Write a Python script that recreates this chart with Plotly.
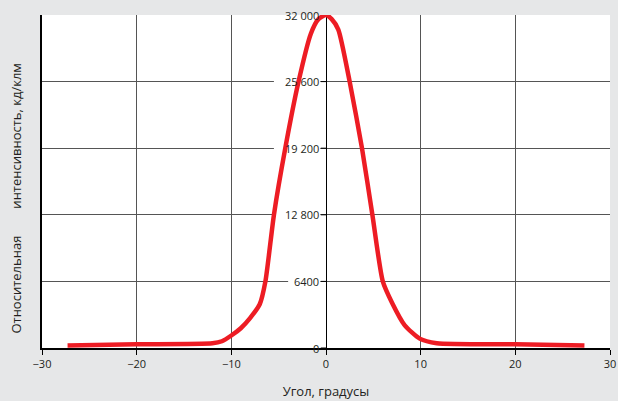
import plotly.graph_objects as go

# Кривая силы света
angle = [-27.3, -20, -12, -11, -10, -9, -8, -7, -6.4, -5.5, -4.3, -2.9, -1.6, -0.8, 0,
         0.6, 1.3, 2.5, 3.8, 4.9, 6.0, 7.0, 8.3, 9.9, 11.7, 20, 27.3]
intensity = [250, 350, 450, 650, 1200, 1900, 2900, 4200, 6400, 12800, 19200, 25600, 30200,
             31600, 32000, 31600, 30600, 25600, 19200, 12800, 6400, 4300, 2200, 900, 450, 350, 250]

x_ticks = [-30, -20, -10, 0, 10, 20, 30]
y_ticks = [0, 6400, 12800, 19200, 25600, 32000]
y_labels = ["0", "6400", "12 800", "19 200", "25 600", "32 000"]

fig = go.Figure()
fig.add_trace(go.Scatter(x=angle, y=intensity, mode="lines", line=dict(color="#ed1c24", width=4.5, shape="spline", smoothing=0.6), hoverinfo="skip"))

for v, t in zip(y_ticks, y_labels):
    fig.add_shape(type="rect", x0=-0.6 - 0.75 * len(t) - 0.4, x1=-0.6, y0=v - 450, y1=v + 450,
                  fillcolor="white", line=dict(width=0), layer="between")
    fig.add_shape(type="line", x0=-0.55, x1=0, y0=v, y1=v, line=dict(color="black", width=1), layer="between")
    fig.add_annotation(x=-0.6, y=v, text=t, showarrow=False, xanchor="right", yanchor="middle",
                       font=dict(size=11, color="#231f20", family="Open Sans"), borderpad=0)

# подпись оси Y
gap = "\u00a0" * 8
fig.add_annotation(xref="paper", yref="paper", x=-0.045, y=0.45, textangle=-90, showarrow=False,
                   xanchor="center", yanchor="middle", font=dict(size=13),
                   text="Относительная" + gap + "интенсивность, кд/клм")

fig.update_layout(
    width=618, height=401,
    paper_bgcolor="#e6e7e8", plot_bgcolor="white",
    margin=dict(l=42, r=8, t=15, b=53, autoexpand=False),
    showlegend=False,
    font=dict(family="Open Sans", color="#231f20"),
)
fig.update_xaxes(range=[-30, 30], tickvals=x_ticks, ticktext=["−30", "−20", "−10", "0", "10", "20", "30"],
                 showgrid=True, gridcolor="#555555", gridwidth=1, zeroline=True, zerolinecolor="black", zerolinewidth=1,
                 showline=True, linecolor="black", linewidth=1.5, ticks="outside", ticklen=5, tickcolor="black",
                 tickfont=dict(size=11), automargin=False,
                 title=dict(text="Угол, градусы", font=dict(size=13), standoff=17))
fig.update_yaxes(range=[0, 32000], tickvals=y_ticks, showticklabels=False, showgrid=True, gridcolor="#555555",
                 gridwidth=1, zeroline=False, showline=True, linecolor="black", linewidth=1.5, automargin=False)

fig.write_html("out.html", config={"displayModeBar": False},
               post_script="document.body.style.margin='0';")
